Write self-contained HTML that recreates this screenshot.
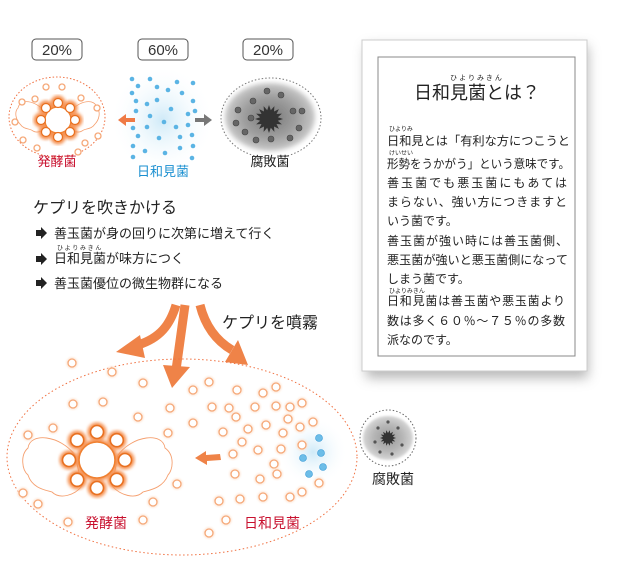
<!DOCTYPE html>
<html><head><meta charset="utf-8"><style>
html,body{margin:0;padding:0;background:#fff;width:640px;height:563px;overflow:hidden}
svg{display:block}
text{font-family:"Liberation Sans","Noto Sans CJK JP",sans-serif}
</style></head><body>
<svg id="s" width="640" height="563" viewBox="0 0 640 563" xmlns="http://www.w3.org/2000/svg">
<defs>
<filter id="blur6"><feGaussianBlur stdDeviation="6"/></filter>
<filter id="blur3"><feGaussianBlur stdDeviation="2.5"/></filter>
<filter id="blur2"><feGaussianBlur stdDeviation="1.6"/></filter>
<filter id="blur1"><feGaussianBlur stdDeviation="1"/></filter>
<radialGradient id="blueglow"><stop offset="0" stop-color="#cfeaf8"/><stop offset="1" stop-color="#fff" stop-opacity="0"/></radialGradient>
<radialGradient id="grayblob"><stop offset="0" stop-color="#555"/><stop offset="0.6" stop-color="#888"/><stop offset="1" stop-color="#bbb"/></radialGradient>
</defs>

<g fill="#fff" stroke="#555" stroke-width="1">
<rect x="32" y="39" width="50" height="21" rx="4"/>
<rect x="138" y="39" width="50" height="21" rx="4"/>
<rect x="243" y="39" width="50" height="21" rx="4"/>
</g>
<g font-size="15" fill="#333" text-anchor="middle">
<text x="57" y="55">20%</text><text x="163" y="55">60%</text><text x="268" y="55">20%</text>
</g>

<ellipse cx="57" cy="117" rx="48" ry="40" fill="none" stroke="#f07040" stroke-width="1" stroke-dasharray="1.5,2"/>
<g fill="#fff" stroke="#f5a070" stroke-width="0.8">
<path d="M45,112 C35,100 20,98 18,108 C14,112 16,120 20,124 C24,130 30,128 33,131 C38,134 45,130 48,126 Z"/>
<path d="M70,112 C80,100 95,98 97,108 C101,112 99,120 95,124 C91,130 85,128 82,131 C77,134 70,130 67,126 Z"/>
</g>
<g id="topflower"></g>

<rect x="110" y="65" width="105" height="110" fill="url(#blueglow)"/>
<g id="bluetop"></g>
<path d="M118,120 L126,114 L126,118 L135,118 L135,122 L126,122 L126,126 Z" fill="#ef7a45"/>
<path d="M212,120 L204,114 L204,118 L195,118 L195,122 L204,122 L204,126 Z" fill="#777"/>

<ellipse cx="271" cy="118" rx="50" ry="40" fill="none" stroke="#777" stroke-width="1" stroke-dasharray="1.5,2"/>
<ellipse cx="270" cy="117" rx="45" ry="34" fill="url(#grayblob)" filter="url(#blur3)" opacity="0.8"/>
<g id="graydots"></g>
<polygon id="star" fill="#333"/>

<text x="57" y="166" font-size="13" fill="#c8102e" text-anchor="middle">発酵菌</text>
<text x="163" y="176" font-size="13" fill="#1a8fd0" text-anchor="middle">日和見菌</text>
<text x="270" y="166" font-size="13" fill="#222" text-anchor="middle">腐敗菌</text>

<text x="33" y="213" font-size="16" fill="#222">ケプリを吹きかける</text>
<g fill="#222">
<path d="M36,230 h5 v-3 l6,6 l-6,6 v-3 h-5 z"/>
<path d="M36,256 h5 v-3 l6,6 l-6,6 v-3 h-5 z"/>
<path d="M36,280 h5 v-3 l6,6 l-6,6 v-3 h-5 z"/>
</g>
<g font-size="13" fill="#222">
<text x="54" y="238">善玉菌が身の回りに次第に増えて行く</text>
<text x="57" y="250" font-size="6">ひ よ り  み  き ん</text>
<text x="54" y="263">日和見菌が味方につく</text>
<text x="54" y="288">善玉菌優位の微生物群になる</text>
</g>

<rect x="366" y="46" width="222" height="332" fill="#999" filter="url(#blur6)" opacity="0.7"/>
<rect x="362" y="40" width="225" height="331" fill="#fff" stroke="#ccc"/>
<rect x="378" y="57" width="197" height="299" fill="#fff" stroke="#888"/>
<text x="476" y="80" font-size="7" fill="#222" text-anchor="middle">ひ よ り  み  き ん</text>
<text x="477" y="99" font-size="18" fill="#222" text-anchor="middle">日和見菌とは？</text>
<g font-size="12" fill="#222">
<text x="389" y="131" font-size="6">ひよりみ</text>
<text x="387" y="145" textLength="183" lengthAdjust="spacingAndGlyphs">日和見とは「有利な方につこうと</text>
<text x="389" y="155" font-size="6">けいせい</text>
<text x="387" y="168" textLength="183" lengthAdjust="spacingAndGlyphs">形勢をうかがう」という意味です。</text>
<text x="387" y="187" textLength="180">善玉菌でも悪玉菌にもあては</text>
<text x="387" y="206" textLength="180">まらない、強い方につきますと</text>
<text x="387" y="225">いう菌です。</text>
<text x="387" y="245" textLength="181">善玉菌が強い時には善玉菌側、</text>
<text x="387" y="264" textLength="181" lengthAdjust="spacingAndGlyphs">悪玉菌が強いと悪玉菌側になって</text>
<text x="387" y="283">しまう菌です。</text>
<text x="389" y="293" font-size="6">ひよりみきん</text>
<text x="387" y="305" textLength="178">日和見菌は善玉菌や悪玉菌より</text>
<text x="387" y="325" textLength="178">数は多く６０％～７５％の多数</text>
<text x="387" y="344">派なのです。</text>
</g>

<g stroke="#ef8348" stroke-width="9" fill="none">
<path d="M176,305 C170,325 160,338 138,345"/>
<path d="M185,305 L176,370"/>
<path d="M200,305 C205,325 215,340 232,350"/>
</g>
<g fill="#ef8348">
<polygon points="116,352 140,335 145,358"/>
<polygon points="172,388 163,365 190,367"/>
<polygon points="248,365 225,362 238,340"/>
</g>
<text x="222" y="328" font-size="16" fill="#222">ケプリを噴霧</text>

<ellipse cx="182" cy="457" rx="175" ry="98" fill="none" stroke="#f07040" stroke-width="1" stroke-dasharray="1.5,2.5"/>
<ellipse cx="313" cy="452" rx="35" ry="35" fill="url(#blueglow)"/>
<g id="ringdots"></g>
<g fill="#fff" stroke="#f5a070" stroke-width="0.9">
<path d="M75,455 C60,435 30,432 28,448 C20,455 22,470 28,475 C32,488 45,490 52,492 C60,500 75,495 82,486 Z"/>
<path d="M118,455 C133,435 163,432 165,448 C175,455 173,470 168,475 C163,488 150,490 143,492 C135,500 120,495 112,486 Z"/>
</g>
<g id="bigflower"></g>
<path d="M195,458 L206,451 L206,455 L220,454 L221,460 L207,461 L207,465 Z" fill="#ef8348"/>
<g id="bluebot"></g>
<text x="106" y="528" font-size="14" fill="#c8102e" text-anchor="middle">発酵菌</text>
<text x="272" y="528" font-size="14" fill="#c8102e" text-anchor="middle">日和見菌</text>

<circle cx="388" cy="438" r="28" fill="none" stroke="#666" stroke-dasharray="1.5,2"/>
<ellipse cx="388" cy="438" rx="25" ry="22" fill="url(#grayblob)" filter="url(#blur1)" opacity="0.6"/>
<polygon id="star2" fill="#333"/>
<g id="gray2"></g>
<text x="393" y="484" font-size="14" fill="#222" text-anchor="middle">腐敗菌</text>
</svg>
<script>
var NS="http://www.w3.org/2000/svg";
function c(g,x,y,r,a){var e=document.createElementNS(NS,"circle");e.setAttribute("cx",x);e.setAttribute("cy",y);e.setAttribute("r",r);for(var k in a)e.setAttribute(k,a[k]);document.getElementById(g).appendChild(e);}
function flower(g,cx,cy,R,d,pr,sw){
 var i,a;
 for(i=0;i<8;i++){a=i*Math.PI/4-Math.PI/2;c(g,cx+d*Math.cos(a),cy+d*Math.sin(a),pr+3,{fill:"#f59050",filter:"url(#blur2)"});}
 c(g,cx,cy,R+4,{fill:"#f59050",filter:"url(#blur2)"});
 c(g,cx,cy,R+1,{fill:"#fff",stroke:"#f08030","stroke-width":sw});
 for(i=0;i<8;i++){a=i*Math.PI/4-Math.PI/2;c(g,cx+d*Math.cos(a),cy+d*Math.sin(a),pr,{fill:"#fff",stroke:"#e87020","stroke-width":sw});}
}
flower("topflower",58,120,12,17,4.5,1.2);
flower("bigflower",97,460,17,28,6.5,1.6);
[[46,87],[62,87],[22,102],[35,99],[81,98],[97,108],[15,122],[98,136],[23,140],[37,148],[78,152],[85,143]].forEach(function(p){c("topflower",p[0],p[1],3,{fill:"#fff",stroke:"#f5a878","stroke-width":1.3});});
[[132,79],[150,79],[177,82],[193,83],[138,86],[157,87],[168,90],[182,93],[132,93],[136,101],[147,104],[157,100],[193,101],[136,111],[171,109],[150,116],[188,114],[195,111],[164,122],[176,127],[188,125],[147,127],[133,128],[138,136],[159,138],[180,137],[192,135],[133,146],[145,151],[165,153],[180,148],[193,146],[133,157],[192,158]].forEach(function(p){c("bluetop",p[0],p[1],2.3,{fill:"#5bb4e4"});});
[[267,91],[281,95],[253,101],[238,110],[293,111],[302,111],[236,123],[251,118],[299,128],[245,132],[256,140],[271,139],[290,138]].forEach(function(p){c("graydots",p[0],p[1],3,{fill:"#666",stroke:"#444","stroke-width":0.6});});
function star(id,cx,cy,r1,r2,n){var s="";for(var i=0;i<2*n;i++){var r=i%2?r2:r1,a=i*Math.PI/n;s+=(cx+r*Math.cos(a)).toFixed(1)+","+(cy+r*Math.sin(a)).toFixed(1)+" ";}document.getElementById(id).setAttribute("points",s);}
star("star",269,119,14,9,16);star("star2",388,438,8,5,14);
[[378,428],[398,428],[375,442],[402,445],[392,454],[380,452],[388,422]].forEach(function(p){c("gray2",p[0],p[1],1.6,{fill:"#555"});});
[[72,363],[112,372],[143,383],[73,404],[103,402],[138,417],[53,428],[28,435],[170,408],[168,433],[193,390],[209,382],[193,423],[212,407],[229,408],[236,417],[237,390],[263,393],[276,387],[255,407],[276,406],[290,407],[302,403],[288,419],[266,425],[248,429],[223,432],[242,442],[283,433],[300,427],[313,422],[258,450],[281,449],[233,454],[302,445],[274,464],[277,474],[235,474],[260,479],[319,483],[302,492],[290,497],[263,497],[240,499],[219,501],[226,520],[209,533],[177,484],[153,502],[143,520],[68,522],[38,504],[23,493]].forEach(function(p){c("ringdots",p[0],p[1],5.5,{fill:"#fde3d0",filter:"url(#blur1)"});c("ringdots",p[0],p[1],4,{fill:"#fff",stroke:"#f5a878","stroke-width":1.3});});
[[319,438],[321,453],[303,458],[323,467],[309,474]].forEach(function(p){c("bluebot",p[0],p[1],3.5,{fill:"#6cbde8",stroke:"#3a9ad6","stroke-width":0.6});});
</script>
</body></html>
